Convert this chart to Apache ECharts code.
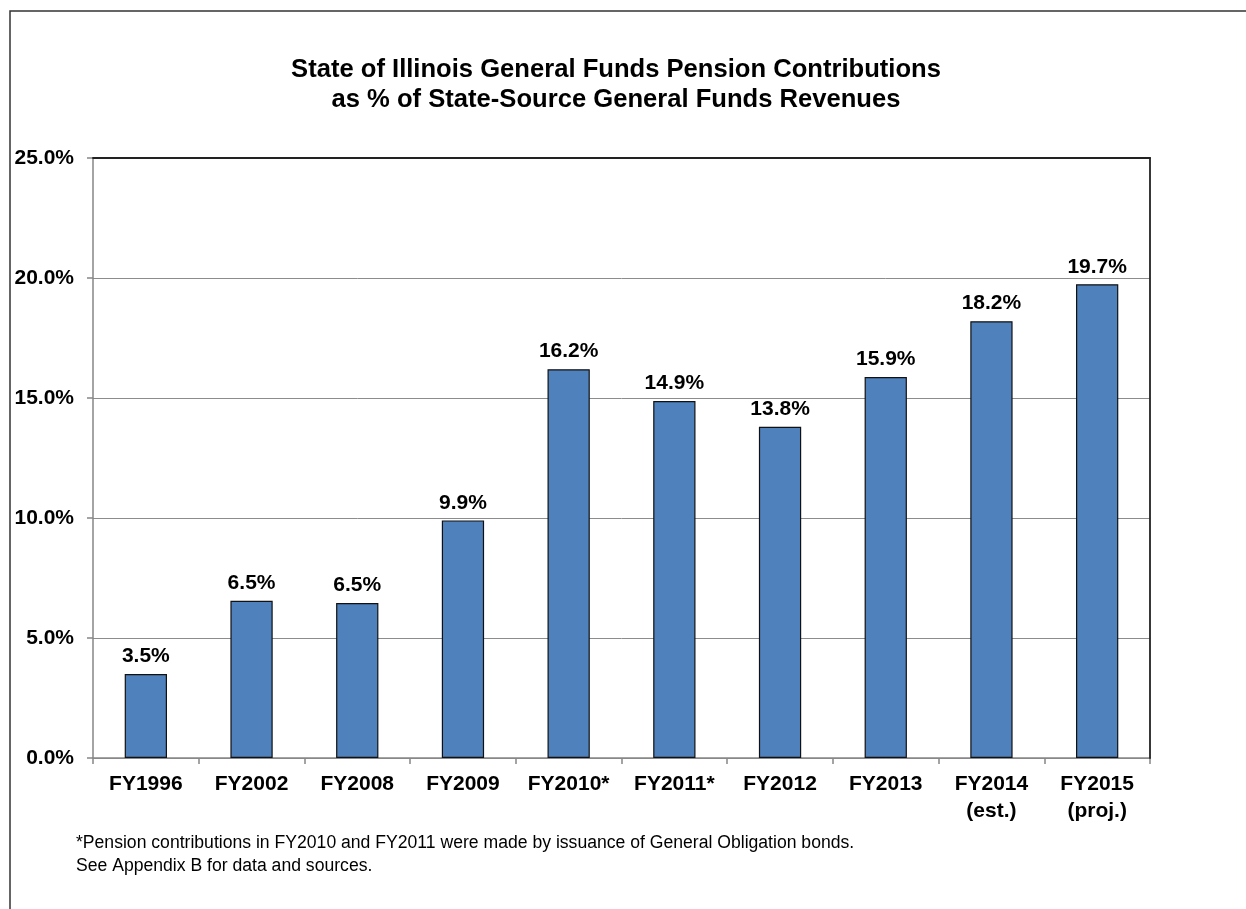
<!DOCTYPE html>
<html lang="en">
<head>
    <meta charset="UTF-8">
    <title>Illinois Pension Contributions</title>
    <script src="https://cdn.jsdelivr.net/npm/echarts@6/dist/echarts.min.js"></script>
    <style>
        body { margin: 0; background: #fff; }
        #chart { width: 1246px; height: 909px; }
    </style>
</head>
<body>
    <div id="chart"></div>
    <script>
        // data
        const categories = ['FY1996', 'FY2002', 'FY2008', 'FY2009', 'FY2010*', 'FY2011*',
            'FY2012', 'FY2013', 'FY2014\n(est.)', 'FY2015\n(proj.)'];
        const shares = [3.5, 6.55, 6.46, 9.9, 16.2, 14.87, 13.8, 15.87, 18.2, 19.74];
        const shareLabels = ['3.5%', '6.5%', '6.5%', '9.9%', '16.2%', '14.9%', '13.8%', '15.9%', '18.2%', '19.7%'];
        const yTicks = [0, 5, 10, 15, 20, 25];

        const FONT = "'Liberation Sans', Arial, sans-serif";
        const chart = echarts.init(document.getElementById('chart'));

        const option = {
            backgroundColor: '#fff',
            animation: false,
            title: {
                text: 'State of Illinois General Funds Pension Contributions\nas % of State-Source General Funds Revenues',
                left: 611,
                top: 50,
                textAlign: 'center',
                textStyle: {
                    fontFamily: FONT, fontSize: 25.6, fontWeight: 'bold',
                    color: '#000', lineHeight: 30, align: 'center'
                }
            },
            grid: { left: 93, right: 96, top: 158, bottom: 151 },
            xAxis: [{
                type: 'category',
                data: categories,
                axisLine: { lineStyle: { color: '#868686', width: 1.5 } },
                axisTick: { show: true, length: 6, lineStyle: { color: '#868686', width: 1.5 } },
                axisLabel: {
                    margin: 13, interval: 0,
                    fontFamily: FONT, fontSize: 21, fontWeight: 'bold',
                    color: '#000', lineHeight: 27
                }
            }, {
                type: 'category',
                position: 'top',
                z: 5,
                data: categories,
                axisLine: { onZero: false, lineStyle: { color: '#222', width: 1.8 } },
                axisTick: { show: false },
                axisLabel: { show: false }
            }],
            yAxis: [{
                type: 'value',
                min: yTicks[0],
                max: yTicks[yTicks.length - 1],
                interval: 5,
                axisLine: { show: true, lineStyle: { color: '#868686', width: 1.5 } },
                axisTick: { show: true, length: 6, lineStyle: { color: '#868686', width: 1.5 } },
                splitLine: { showMaxLine: false, lineStyle: { color: '#8c8c8c', width: 1 } },
                axisLabel: {
                    margin: 19,
                    fontFamily: FONT, fontSize: 21, fontWeight: 'bold', color: '#000',
                    formatter: v => v.toFixed(1) + '%'
                }
            }, {
                type: 'value',
                position: 'right',
                z: 5,
                min: 0, max: 25, interval: 5,
                axisLine: { show: true, onZero: false, lineStyle: { color: '#222', width: 1.8 } },
                axisTick: { show: false },
                axisLabel: { show: false },
                splitLine: { show: false }
            }],
            series: [{
                type: 'bar',
                data: shares,
                barWidth: '40%',
                itemStyle: { color: '#4f81bd', borderColor: '#111', borderWidth: 1.2 },
                label: {
                    show: true,
                    position: 'top',
                    distance: 7,
                    fontFamily: FONT, fontSize: 21, fontWeight: 'bold', color: '#000',
                    formatter: p => shareLabels[p.dataIndex]
                }
            }],
            graphic: [{
                type: 'rect',
                z: -1,
                shape: { x: 10, y: 11, width: 1400, height: 1000 },
                style: { fill: 'none', stroke: '#333', lineWidth: 1.5 }
            }, {
                type: 'text',
                left: 76,
                top: 832,
                style: {
                    text: '*Pension contributions in FY2010 and FY2011 were made by issuance of General Obligation bonds.\nSee Appendix B for data and sources.',
                    font: '17.6px ' + FONT,
                    fill: '#000',
                    lineHeight: 23
                }
            }]
        };

        chart.setOption(option);
    </script>
</body>
</html>
